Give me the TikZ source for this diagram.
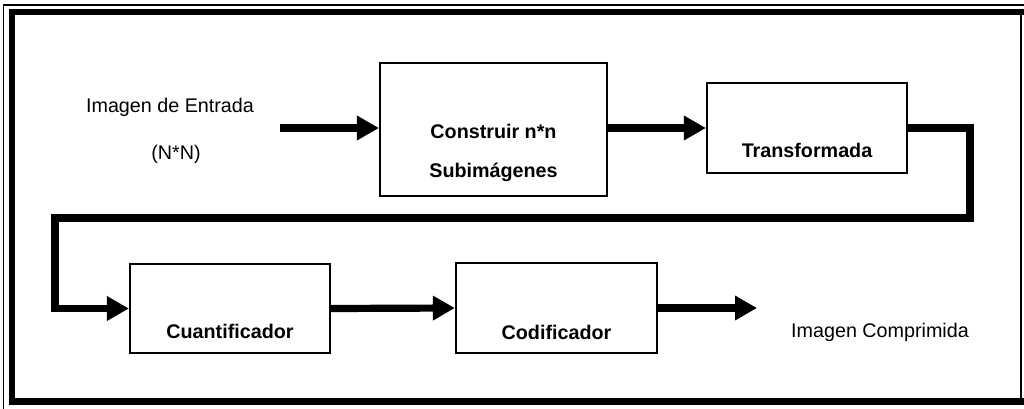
\documentclass[tikz,border=0pt]{standalone}
\usepackage{fontspec}
\setmainfont{Liberation Sans}
\usetikzlibrary{arrows.meta}
\begin{document}
\begin{tikzpicture}[x=0.75pt,y=-0.75pt,
  blk/.style={draw=black,line width=1.6pt,fill=white,inner sep=0pt},
  lbl/.style={font=\fontsize{14.8pt}{17pt}\selectfont,inner sep=0pt,anchor=base},
  blbl/.style={lbl,font=\fontsize{14.8pt}{17pt}\selectfont\bfseries},
  flow/.style={line width=5.4pt,-{Triangle[length=16.5pt,width=17.5pt]}},
  frame/.style={line cap=rect}]
\useasboundingbox (0,0) rectangle (1024,408);
% border
\draw[frame,line width=1.2pt] (3.5,408) -- (3.5,5) -- (1024,5);
\draw[line width=4.6pt] (12,408-3) -- (12,12) -- (1024,12);
\draw[line width=5.2pt] (9,401.5) -- (1024,401.5);
\draw[line width=1.8pt] (1021,12) -- (1021,401.5);
% blocks
\node[blk,minimum width=227*0.75pt,minimum height=133*0.75pt] (b1) at (493.5,129.5) {};
\node[blk,minimum width=200*0.75pt,minimum height=90*0.75pt] (b2) at (807,128) {};
\node[blk,minimum width=200*0.75pt,minimum height=89*0.75pt] (b3) at (230,308.5) {};
\node[blk,minimum width=201*0.75pt,minimum height=90*0.75pt] (b4) at (556.5,308) {};
% labels
\node[blbl] (t1a) at (493.5,138) {Construir n*n};
\node[blbl] (t1b) at (493.5,177) {Subimágenes};
\node[blbl] (t2) at (807,157) {Transformada};
\node[blbl] (t3) at (230,338) {Cuantificador};
\node[blbl] (t4) at (556.5,339) {Codificador};
\node[lbl] (in1) at (170,112) {Imagen de Entrada};
\node[lbl] (in2) at (176,159) {(N*N)};
\node[lbl] (out) at (880,337) {Imagen Comprimida};
% connectors
\coordinate (s) at (280,128);
\coordinate (r1) at (970,218);
\coordinate (l1) at (55,218);
\coordinate (e) at (757,308);
\draw[flow] (s) -- (b1.west |- s);
\draw[flow] (b1.east |- b2.west) -- (b2.west);
\draw[flow] (b2.east) -| (r1) -- (l1) |- (b3.west);
\draw[flow] (b3.east) -- (b4.west);
\draw[flow] (b4.east) -- (e);
\end{tikzpicture}
\end{document}
